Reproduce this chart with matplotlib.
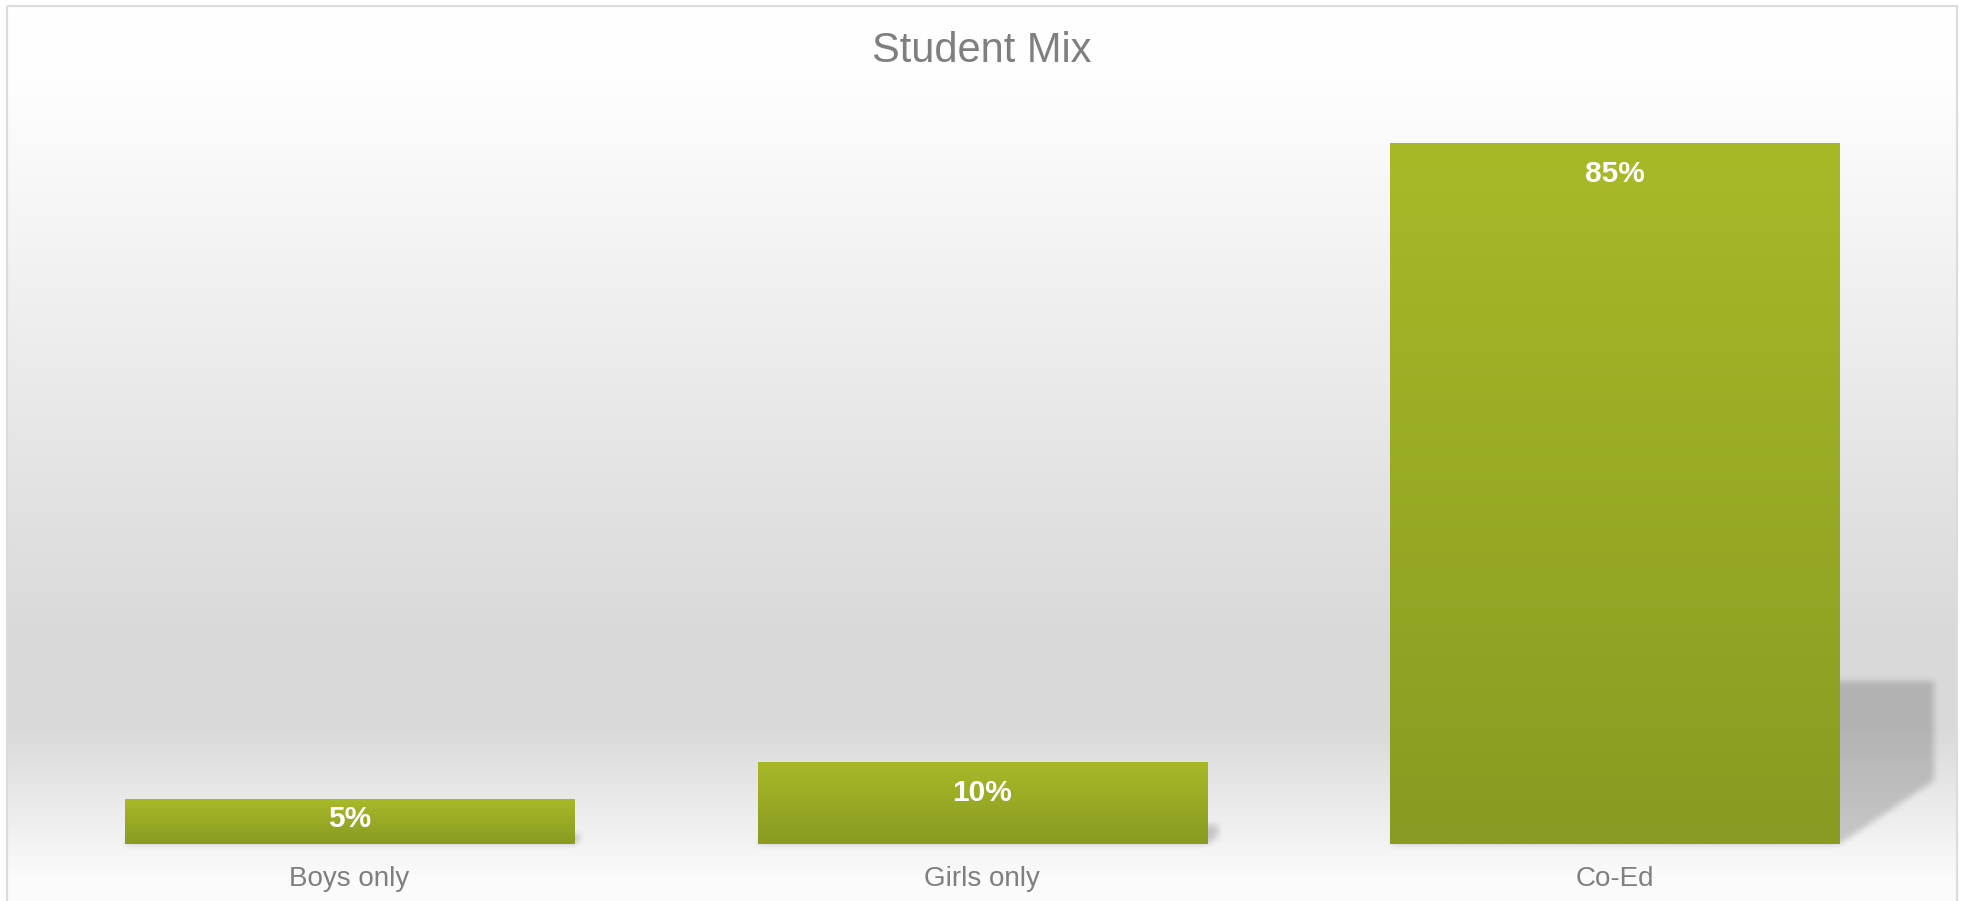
import numpy as np
import matplotlib
matplotlib.use("Agg")
import matplotlib.pyplot as plt
from matplotlib.path import Path
from matplotlib.patches import Rectangle
import matplotlib.colors as mcolors

# ---- data ----
categories = ["Boys only", "Girls only", "Co-Ed"]
shares = [0.054, 0.10, 0.85]
value_labels = ["5%", "10%", "85%"]
title_text = "Student Mix"

W, H = 1961, 901
DPI = 100
plt.rcParams['font.family'] = ['Liberation Sans', 'DejaVu Sans']

fig = plt.figure(figsize=(W / DPI, H / DPI), dpi=DPI)

# ---- background axes (pixel coords, origin top-left) ----
bg = fig.add_axes([0, 0, 1, 1], zorder=-10)
bg.set_xlim(0, W)
bg.set_ylim(H, 0)
bg.axis('off')

top_px, bot_px = 6, 905
ys = np.arange(H) + 0.5
t = (ys - top_px) / (bot_px - top_px)
stops_t = [0.0, 0.08, 0.70, 0.80, 0.97, 1.0]
stops_v = [255, 254, 217, 217, 251, 252]
vals = np.interp(t, stops_t, stops_v) / 255.0
grad = np.repeat(vals[:, None], 2, axis=1)
grad_rgb = np.dstack([grad, grad, grad])
bg.imshow(grad_rgb, extent=[7, 1957, H, 6], aspect='auto', interpolation='bilinear', zorder=0)
bg.add_patch(Rectangle((7, 6), 1950, 910, fill=False, edgecolor='#dcdcdc', linewidth=1.6, zorder=5))

# ---- main axes ----
base_px = 844
px_per_unit = 8.247 * 100  # pixels per 1.0 share
ylim_top = 0.9
ax_h_px = ylim_top * px_per_unit
spacing = 632.75
x_left_px = 349.5 - spacing / 2
ax = fig.add_axes([x_left_px / W, (H - base_px) / H, 3 * spacing / W, ax_h_px / H], zorder=1)
ax.patch.set_visible(False)
ax.set_xlim(-0.5, 2.5)
ax.set_ylim(0, ylim_top)
for s in ax.spines.values():
    s.set_visible(False)
ax.set_yticks([])
x = np.arange(len(categories))
ax.set_xticks(x)
ax.set_xticklabels(categories, fontsize=20, color='#7f7f7f')
ax.tick_params(axis='x', length=0, pad=15.5)

bar_w = 0.71
bars = ax.bar(x, shares, width=bar_w, color='#8b9b23', zorder=3, linewidth=0)

# gradient fill of bars
top_c = np.array(mcolors.to_rgb('#a8b928'))
bot_c = np.array(mcolors.to_rgb('#8a9a22'))
g = np.linspace(0, 1, 256)[:, None]
bar_grad = top_c[None, :] * (1 - g) + bot_c[None, :] * g
bar_grad = bar_grad[:, None, :]
for b in bars:
    x0, y0 = b.get_x(), b.get_y()
    im = ax.imshow(bar_grad, extent=[x0, x0 + b.get_width(), y0, y0 + b.get_height()],
                   aspect='auto', zorder=4, interpolation='bilinear', origin='upper')
    im.set_clip_path(b)
ax.set_xlim(-0.5, 2.5)
ax.set_ylim(0, ylim_top)

# ---- perspective shadows (derived from bar geometry) ----
yy, xx = np.mgrid[0:H, 0:W]
pts = np.column_stack([xx.ravel() + 0.5, yy.ravel() + 0.5])
mask = np.zeros(H * W, dtype=float)
for b, v in zip(bars, shares):
    x0 = b.get_x()
    x1 = x0 + b.get_width()
    dx = 0.1748 * v
    poly_data = [(x0, 0), (x1, 0), (x1 + dx, 0.09 * v), (x1 + dx, 0.233 * v),
                 (x0 + dx, 0.233 * v), (x0, 0)]
    disp = ax.transData.transform(poly_data)
    disp[:, 1] = H - disp[:, 1]
    p = Path(disp)
    mask = np.maximum(mask, p.contains_points(pts).astype(float))
mask = mask.reshape(H, W)

def box_blur(a, k):
    ker = np.ones(k) / k
    a = np.apply_along_axis(lambda r: np.convolve(r, ker, mode='same'), 1, a)
    a = np.apply_along_axis(lambda c: np.convolve(c, ker, mode='same'), 0, a)
    return a

mask = box_blur(mask, 9)
mask = box_blur(mask, 5)
shadow = np.zeros((H, W, 4))
shadow[..., 3] = 0.18 * mask
bg.imshow(shadow, extent=[0, W, H, 0], aspect='auto', zorder=2, interpolation='nearest')

# ---- value labels ----
for b, v, lab in zip(bars, shares, value_labels):
    bar_px = v * px_per_unit
    off_px = min(31, bar_px / 2 - 3)
    ax.annotate(lab, (b.get_x() + b.get_width() / 2, v), xytext=(0, -off_px * 72 / DPI),
                textcoords='offset points', ha='center', va='center',
                fontsize=21.5, fontweight='bold', color='white', zorder=6)

# ---- title ----
fig.text(982 / W, 1 - 50.5 / H, title_text, ha='center', va='center', fontsize=30, color='#7f7f7f')

fig.savefig('out.png', dpi=DPI)
